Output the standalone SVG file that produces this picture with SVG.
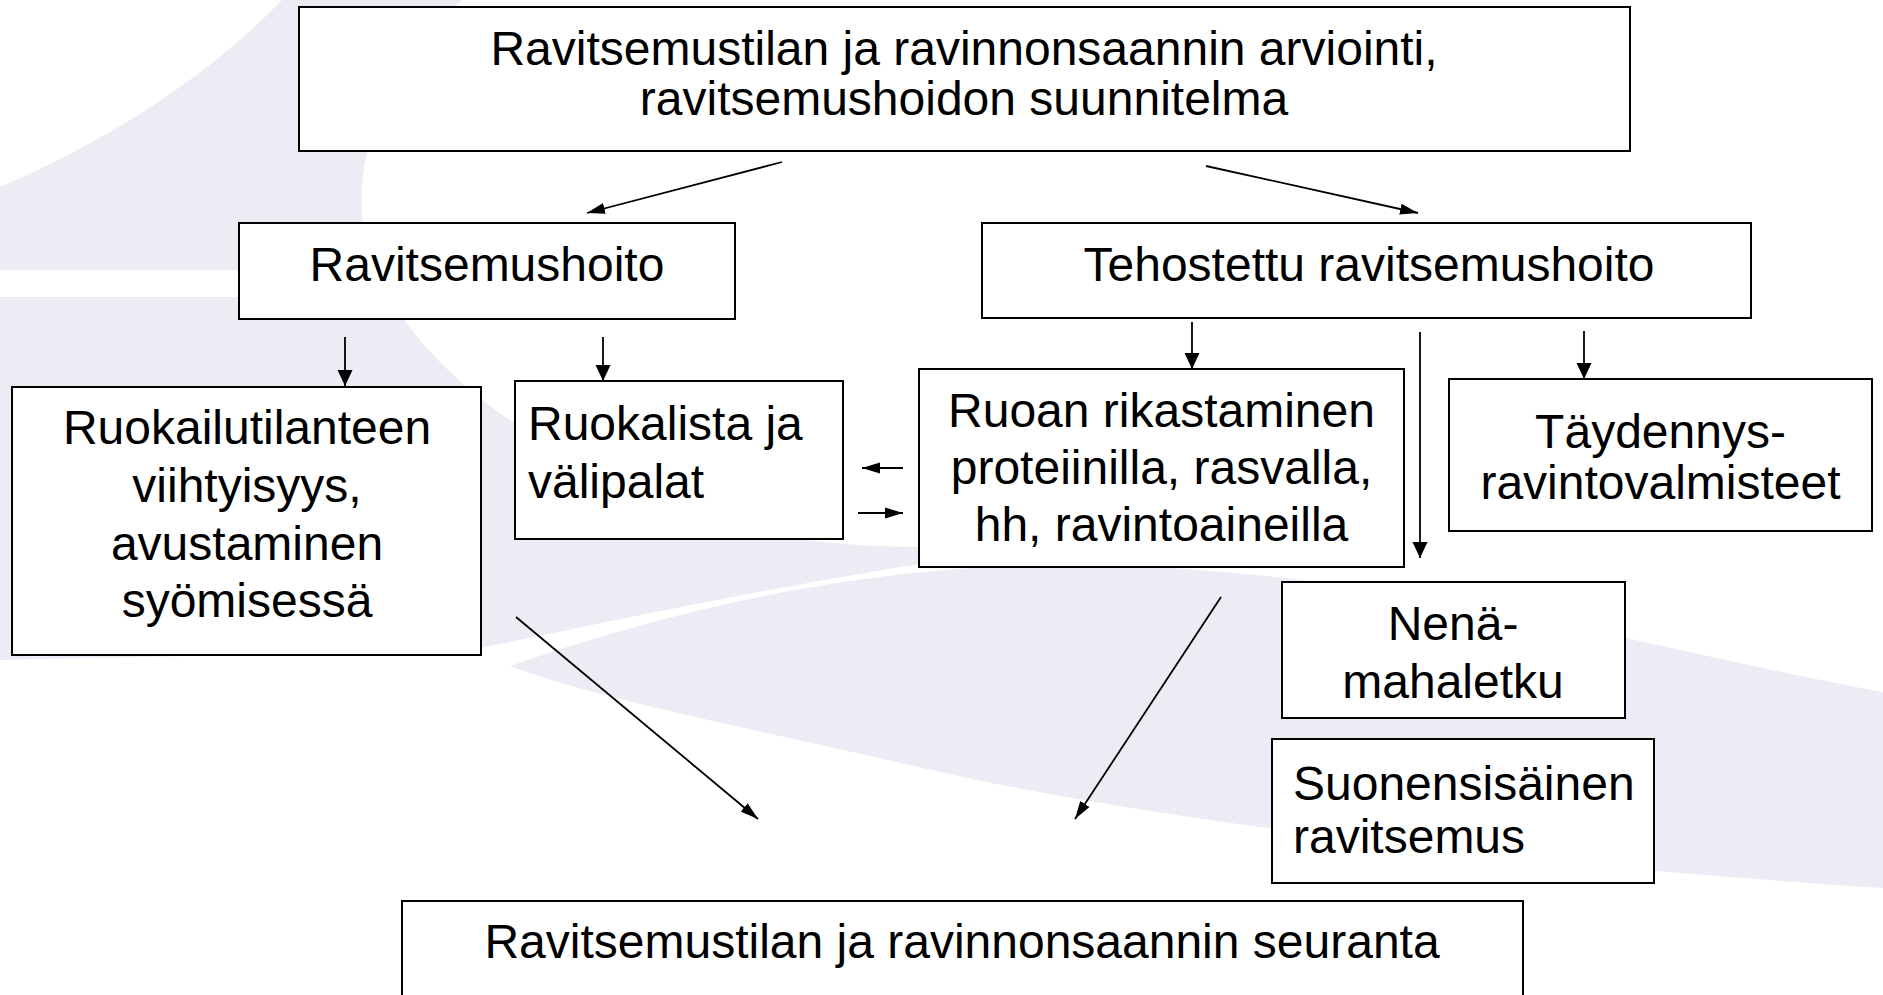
<svg xmlns="http://www.w3.org/2000/svg" width="1883" height="995" viewBox="0 0 1883 995">
<defs>
<style>
.bg{fill:#EDEBF4;stroke:none}
.box{fill:#fff;stroke:#000;stroke-width:2}
.t{font-family:"Liberation Sans",Arial,sans-serif;font-size:48px;fill:#000}
.c{text-anchor:middle}
.l{text-anchor:start}
.ln{stroke:#000;stroke-width:1.8;fill:none}
.v{marker-end:url(#hv)}
.d{marker-end:url(#hd)}
</style>
<marker id="hv" markerUnits="userSpaceOnUse" markerWidth="16" markerHeight="16" viewBox="0 0 16 16" refX="16" refY="8" orient="auto">
<path d="M0,0.5 L16,8 L0,15.5 Z" fill="#000"/>
</marker>
<marker id="hd" markerUnits="userSpaceOnUse" markerWidth="18" markerHeight="12" viewBox="0 0 18 12" refX="18" refY="6" orient="auto">
<path d="M0,0.5 L18,6 L0,11.5 Z" fill="#000"/>
</marker>
</defs>
<rect width="1883" height="995" fill="#fff"/>
<g id="background">
<path class="bg" d="M282,0 L462,0 C400,60 355,140 362,215 C370,330 520,470 760,530 C820,545 880,550 1000,545 L1000,552 C800,580 620,620 470,650 L0,660 L0,187 C110,140 210,75 282,0 Z"/>
<rect x="0" y="270" width="300" height="27" fill="#fff"/>
<path class="bg" d="M510,666 C700,600 900,560 1100,565 C1400,572 1650,650 1883,692 L1883,888 C1600,870 1200,830 940,772 C760,730 600,700 510,666 Z"/>
</g>
<g id="connectors">
<line class="ln d" x1="782" y1="162" x2="587" y2="213"/>
<line class="ln d" x1="1206" y1="166" x2="1418" y2="213"/>
<line class="ln v" x1="345" y1="337" x2="345" y2="386"/>
<line class="ln v" x1="603" y1="337" x2="603" y2="381"/>
<line class="ln v" x1="1192" y1="322" x2="1192" y2="369"/>
<line class="ln v" x1="1420" y1="332" x2="1420" y2="558"/>
<line class="ln v" x1="1584" y1="331" x2="1584" y2="379"/>
<line class="ln d" x1="903" y1="468" x2="862" y2="468"/>
<line class="ln d" x1="858" y1="513" x2="903" y2="513"/>
<line class="ln d" x1="516" y1="617" x2="758" y2="819"/>
<line class="ln d" x1="1221" y1="597" x2="1075" y2="819"/>
</g>
<g id="n-arviointi">
<rect class="box" x="299" y="7" width="1331" height="144"/>
<text class="t c" x="964" y="65">Ravitsemustilan ja ravinnonsaannin arviointi,</text>
<text class="t c" x="964" y="115">ravitsemushoidon suunnitelma</text>
</g>
<g id="n-ravitsemushoito">
<rect class="box" x="239" y="223" width="496" height="96"/>
<text class="t c" x="487" y="281">Ravitsemushoito</text>
</g>
<g id="n-tehostettu">
<rect class="box" x="982" y="223" width="769" height="95"/>
<text class="t c" x="1369" y="281">Tehostettu ravitsemushoito</text>
</g>
<g id="n-ruokailu">
<rect class="box" x="12" y="387" width="469" height="268"/>
<text class="t c" x="247" y="444">Ruokailutilanteen</text>
<text class="t c" x="247" y="502">viihtyisyys,</text>
<text class="t c" x="247" y="560">avustaminen</text>
<text class="t c" x="247" y="617">syömisessä</text>
</g>
<g id="n-ruokalista">
<rect class="box" x="515" y="381" width="328" height="158"/>
<text class="t l" x="528" y="440">Ruokalista ja</text>
<text class="t l" x="528" y="498">välipalat</text>
</g>
<g id="n-ruoan">
<rect class="box" x="919" y="369" width="485" height="198"/>
<text class="t c" x="1161.5" y="427">Ruoan rikastaminen</text>
<text class="t c" x="1161.5" y="484">proteiinilla, rasvalla,</text>
<text class="t c" x="1161.5" y="541">hh, ravintoaineilla</text>
</g>
<g id="n-taydennys">
<rect class="box" x="1449" y="379" width="423" height="152"/>
<text class="t c" x="1660.5" y="448">Täydennys-</text>
<text class="t c" x="1660.5" y="499">ravintovalmisteet</text>
</g>
<g id="n-nena">
<rect class="box" x="1282" y="582" width="343" height="136"/>
<text class="t c" x="1453" y="640">Nenä-</text>
<text class="t c" x="1453" y="698">mahaletku</text>
</g>
<g id="n-suonensisainen">
<rect class="box" x="1272" y="739" width="382" height="144"/>
<text class="t l" x="1293" y="800">Suonensisäinen</text>
<text class="t l" x="1293" y="853">ravitsemus</text>
</g>
<g id="n-seuranta">
<rect class="box" x="402" y="901" width="1121" height="120"/>
<text class="t c" x="962" y="958">Ravitsemustilan ja ravinnonsaannin seuranta</text>
</g>
</svg>
